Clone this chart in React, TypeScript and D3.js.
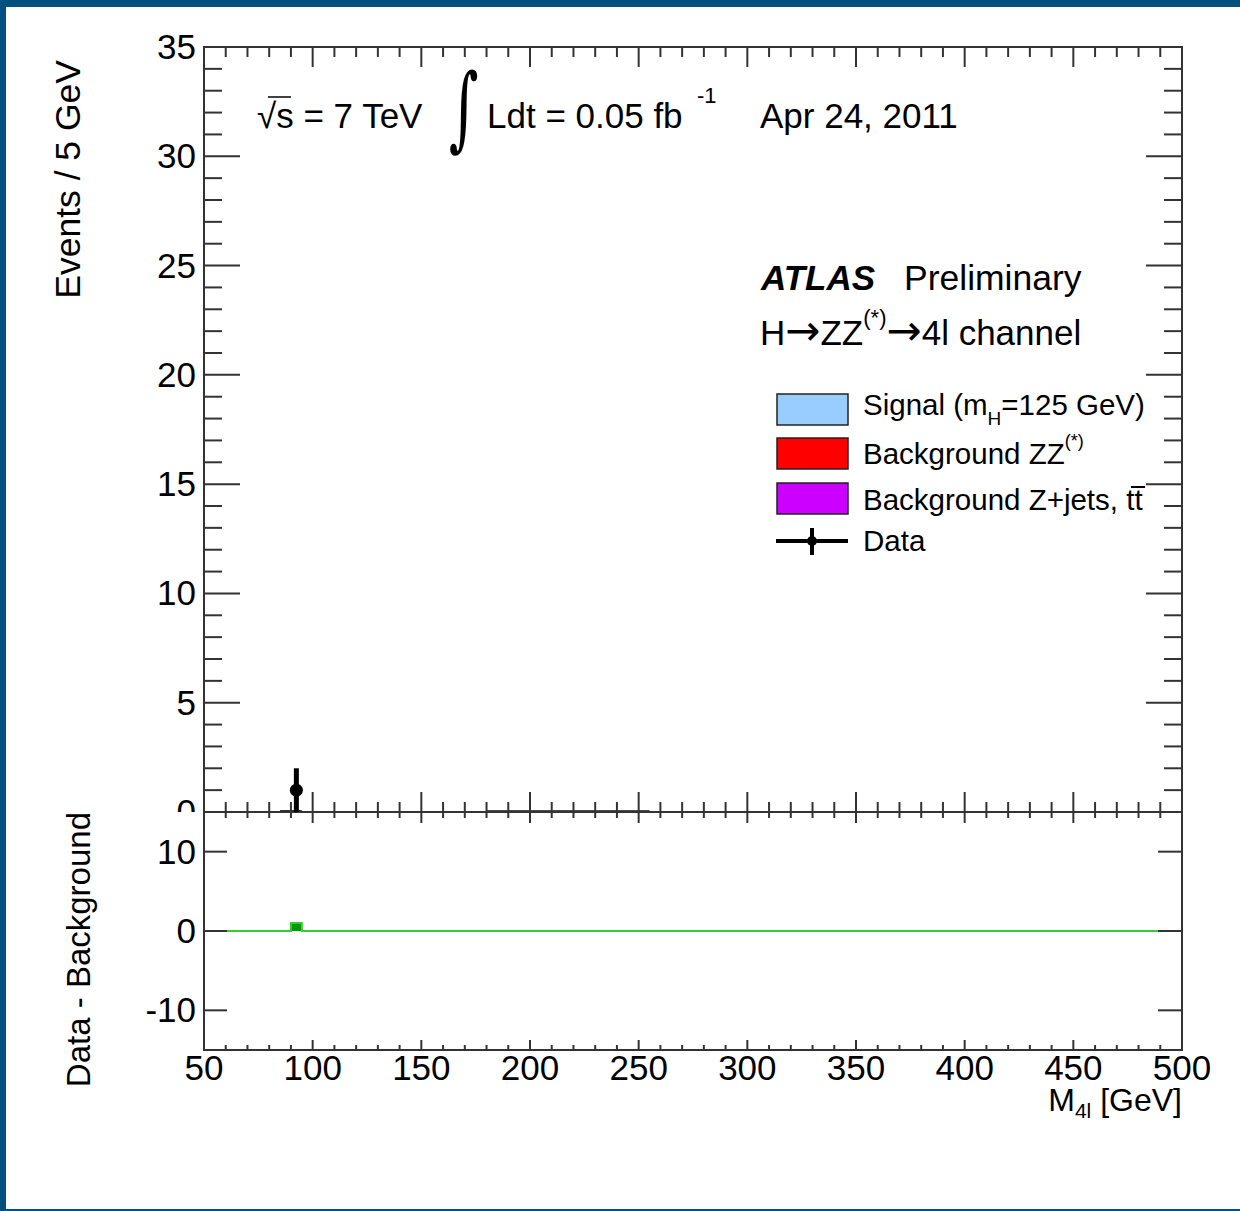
import React from "react";
import * as d3 from "d3";

// ---- data ----
const xTicksMajor = [50, 100, 150, 200, 250, 300, 350, 400, 450, 500];
const yTicksUpper = [0, 5, 10, 15, 20, 25, 30, 35];
const yTicksLower = [-10, 0, 10];

// data points (bin centre, count, error)
const dataX = [92.5];
const dataY = [1];
const dataErr = [1];

// background stack outline (variable-width histogram segments)
const bgEdges = [[85, 95], [180, 255]];
const bgValues = [0.04, 0.04];

// Data - Background histogram (variable-width bins)
const diffEdges = [60, 90, 95, 490];
const diffValues = [0, 1, 0];

const legendLabels = ["Signal (m", "Background ZZ", "Background Z+jets, tt", "Data"];
const legendColors = ["#99ccff", "#ff0000", "#cc00ff"];

const W = 1240, H = 1211;
const L = 204, R = 1182, T = 47, MID = 812, B = 1050;
const FONT = "'Liberation Sans', Arial, Helvetica, sans-serif";
const ARROW = "'DejaVu Sans', sans-serif";
const AX = "#333";

export default function App() {
  const x = d3.scaleLinear().domain([50, 500]).range([L, R]);
  const yU = d3.scaleLinear().domain([0, 35]).range([MID, T]);
  const yL = d3.scaleLinear().domain([-15, 15]).range([B, MID]);

  const minorX = d3.range(50, 501, 10).filter((v) => v % 50 !== 0);
  const minorYU = d3.range(0, 36, 1).filter((v) => v % 5 !== 0);

  const diffPts: [number, number][] = [];
  diffValues.forEach((v, i) => {
    diffPts.push([diffEdges[i], v]);
    diffPts.push([diffEdges[i + 1], v]);
  });
  const diffLine = d3
    .line<[number, number]>()
    .x((d) => x(d[0]))
    .y((d) => yL(d[1]));

  const ticks: JSX.Element[] = [];
  xTicksMajor.forEach((v, i) => {
    ticks.push(<line key={"uxb" + i} x1={x(v)} x2={x(v)} y1={MID} y2={MID - 20} />);
    ticks.push(<line key={"uxt" + i} x1={x(v)} x2={x(v)} y1={T} y2={T + 20} />);
    ticks.push(<line key={"lxt" + i} x1={x(v)} x2={x(v)} y1={MID} y2={MID + 11} />);
    ticks.push(<line key={"lxb" + i} x1={x(v)} x2={x(v)} y1={B} y2={B - 10} />);
  });
  minorX.forEach((v, i) => {
    ticks.push(<line key={"muxb" + i} x1={x(v)} x2={x(v)} y1={MID} y2={MID - 10} />);
    ticks.push(<line key={"muxt" + i} x1={x(v)} x2={x(v)} y1={T} y2={T + 10} />);
    ticks.push(<line key={"mlxt" + i} x1={x(v)} x2={x(v)} y1={MID} y2={MID + 6} />);
    ticks.push(<line key={"mlxb" + i} x1={x(v)} x2={x(v)} y1={B} y2={B - 5} />);
  });
  yTicksUpper.forEach((v, i) => {
    ticks.push(<line key={"uyl" + i} x1={L} x2={L + 36} y1={yU(v)} y2={yU(v)} />);
    ticks.push(<line key={"uyr" + i} x1={R} x2={R - 36} y1={yU(v)} y2={yU(v)} />);
  });
  minorYU.forEach((v, i) => {
    ticks.push(<line key={"muyl" + i} x1={L} x2={L + 18} y1={yU(v)} y2={yU(v)} />);
    ticks.push(<line key={"muyr" + i} x1={R} x2={R - 18} y1={yU(v)} y2={yU(v)} />);
  });
  yTicksLower.forEach((v, i) => {
    ticks.push(<line key={"lyl" + i} x1={L} x2={L + 23} y1={yL(v)} y2={yL(v)} />);
    ticks.push(<line key={"lyr" + i} x1={R} x2={R - 24} y1={yL(v)} y2={yL(v)} />);
  });

  const legY = [409, 453, 498];

  return (
    <div style={{ position: "absolute", left: 0, top: 0, width: W, height: H }}>
      <svg width={W} height={H} style={{ display: "block", fontFamily: FONT }}>
        <defs>
          <clipPath id="upclip">
            <rect x={0} y={0} width={W} height={MID} />
          </clipPath>
        </defs>
        <rect x={0} y={0} width={W} height={H} fill="#03507e" />
        <rect x={6} y={7} width={W - 6} height={1202} fill="#ffffff" />

        {/* lower pad difference */}
        <rect
          x={x(diffEdges[1])}
          y={yL(diffValues[1])}
          width={x(diffEdges[2]) - x(diffEdges[1])}
          height={yL(0) - yL(diffValues[1])}
          fill="#009900"
        />
        <path d={diffLine(diffPts) || ""} fill="none" stroke="#33cc33" strokeWidth={2} />

        {/* upper pad background outline */}
        {bgEdges.map((e, i) => (
          <line key={"bg" + i} x1={x(e[0])} x2={x(e[1])} y1={yU(bgValues[i])} y2={yU(bgValues[i])} stroke="#111" strokeWidth={2} />
        ))}

        {/* axes */}
        <g stroke={AX} strokeWidth={2} fill="none">
          <rect x={L} y={T} width={R - L} height={MID - T} />
          <rect x={L} y={MID} width={R - L} height={B - MID} />
          {ticks}
        </g>

        {/* data */}
        {dataX.map((d, i) => (
          <g key={"d" + i}>
            <line x1={x(d)} x2={x(d)} y1={yU(dataY[i] - dataErr[i])} y2={yU(dataY[i] + dataErr[i])} stroke="#000" strokeWidth={5} />
            <circle cx={x(d)} cy={yU(dataY[i])} r={6.5} fill="#000" />
          </g>
        ))}

        {/* tick labels */}
        <g fontSize={35} fill="#000" clipPath="url(#upclip)">
          {yTicksUpper.map((v) => (
            <text key={"tyu" + v} x={L - 8} y={yU(v) + 12} textAnchor="end">{v}</text>
          ))}
        </g>
        <g fontSize={35} fill="#000">
          {yTicksLower.map((v) => (
            <text key={"tyl" + v} x={L - 8} y={yL(v) + 12} textAnchor="end">{v}</text>
          ))}
          {xTicksMajor.map((v) => (
            <text key={"tx" + v} x={x(v)} y={1080} textAnchor="middle">{v}</text>
          ))}
        </g>

        {/* axis titles */}
        <text transform="translate(80,60) rotate(-90)" textAnchor="end" fontSize={35.5}>Events / 5 GeV</text>
        <text transform="translate(90,812) rotate(-90)" textAnchor="end" fontSize={33}>Data - Background</text>
        <text x={R} y={1111} textAnchor="end" fontSize={32}>
          M<tspan fontSize={21} dy={7}>4l</tspan><tspan dy={-7}> [GeV]</tspan>
        </text>

        {/* header */}
        <text x={257} y={128} fontSize={35}>√s = 7 TeV</text>
        <line x1={268} x2={291} y1={97} y2={97} stroke="#000" strokeWidth={1.5} />
        <text transform="translate(449,139) scale(0.62,1)" fontSize={92} fontFamily="'DejaVu Serif', serif">∫</text>
        <text x={487} y={128} fontSize={35}>Ldt = 0.05 fb</text>
        <text x={697} y={103} fontSize={22}>-1</text>
        <text x={760} y={128} fontSize={35}>Apr 24, 2011</text>

        <text x={761} y={290} fontSize={35} fontWeight="bold" fontStyle="italic">ATLAS</text>
        <text x={904} y={290} fontSize={35.5}>Preliminary</text>
        <text x={760} y={345} fontSize={35}>
          H<tspan fontFamily={ARROW} fontSize={42}>→</tspan>ZZ<tspan fontSize={22} dy={-20}>(*)</tspan><tspan dy={20} fontFamily={ARROW} fontSize={42}>→</tspan>4l channel
        </text>

        {/* legend */}
        {legendColors.map((c, i) => (
          <rect key={"lb" + i} x={777} y={legY[i] - 15} width={71} height={31} fill={c} stroke="#222" strokeWidth={1.5} />
        ))}
        <line x1={776} x2={848} y1={541} y2={541} stroke="#000" strokeWidth={4} />
        <line x1={812} x2={812} y1={528} y2={555} stroke="#000" strokeWidth={4} />
        <circle cx={812} cy={541} r={5} fill="#000" />
        <g fontSize={29.5} fill="#000">
          <text x={863} y={legY[0] + 6}>
            {legendLabels[0]}<tspan fontSize={19} dy={10}>H</tspan><tspan dy={-10}>=125 GeV)</tspan>
          </text>
          <text x={863} y={legY[1] + 11}>
            {legendLabels[1]}<tspan fontSize={18} dy={-17}>(*)</tspan>
          </text>
          <text x={863} y={legY[2] + 12}>{legendLabels[2]}</text>
          <text x={863} y={551}>{legendLabels[3]}</text>
        </g>
        <line x1={1131} x2={1145} y1={487} y2={487} stroke="#000" strokeWidth={2} />
      </svg>
    </div>
  );
}
